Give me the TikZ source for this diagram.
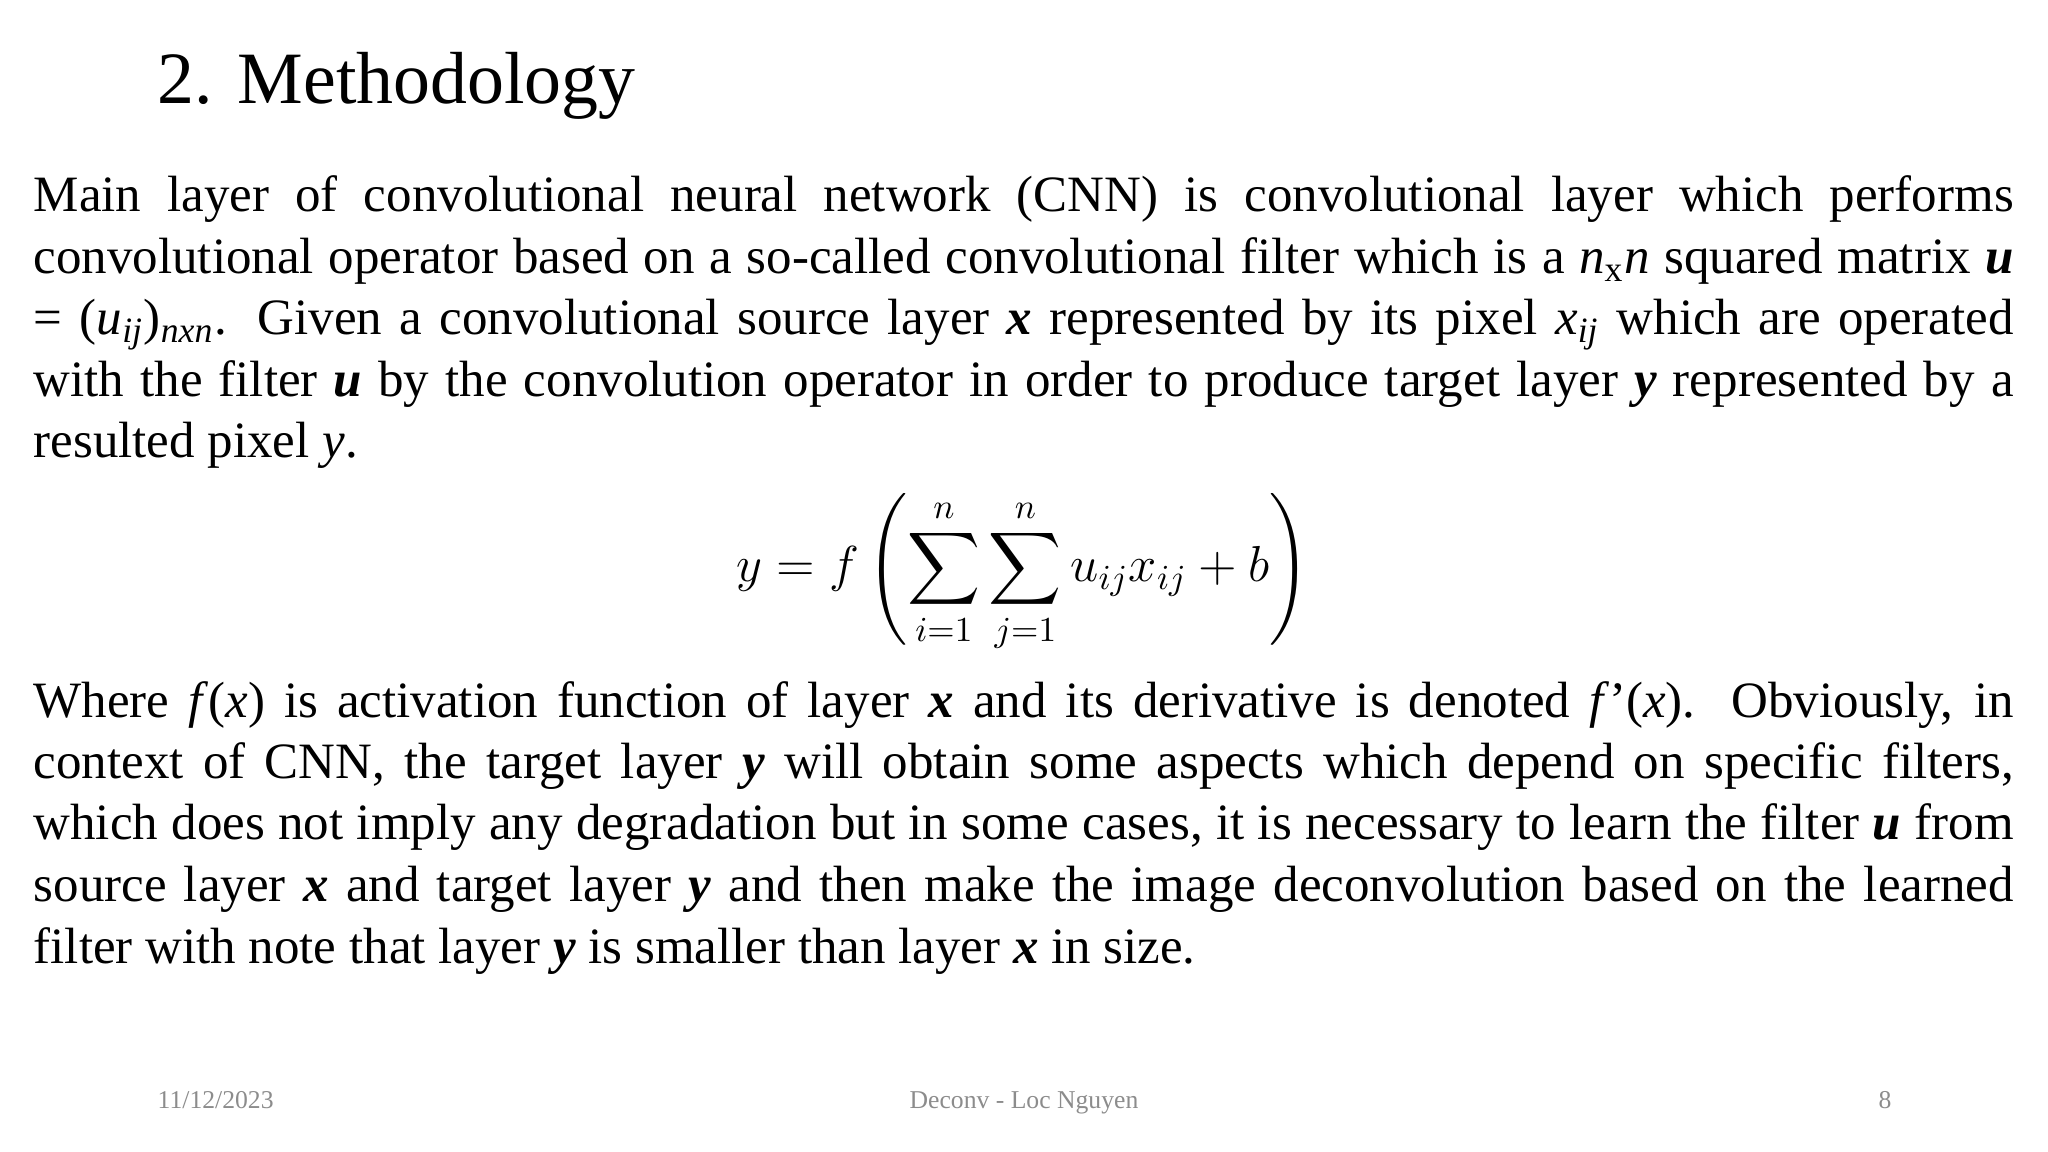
\documentclass[tikz,border=0pt]{standalone}
\usepackage{fontspec}
\usepackage{amsmath}
\setmainfont{Liberation Serif}
\newcommand{\bi}[1]{\textbf{\textit{#1}}}
\newcommand{\jl}[1]{\makebox[19.8cm][s]{#1}}
\begin{document}
\begin{tikzpicture}[x=1cm,y=1cm,
  body/.style={anchor=base west,inner sep=0pt,font=\fontsize{14.5}{17.4}\selectfont},
  foot/.style={anchor=base,inner sep=0pt,text=black!45,font=\fontsize{7.3}{8.5}\selectfont}]
\useasboundingbox (0,0) rectangle (20.48,-11.52);
\node[anchor=base west,inner sep=0pt,font=\fontsize{21}{25}\selectfont] (title) at (1.57,-1.04) {2. Methodology};
\node[body] (a1) at (0.33,-2.12) {\jl{Main layer of convolutional neural network (CNN) is convolutional layer which performs}};
\node[body] (a2) at (0.33,-2.735) {\jl{convolutional operator based on a so-called convolutional filter which is a \textit{n}\textsubscript{x}\textit{n} squared matrix \bi{u}}};
\node[body] (a3) at (0.33,-3.35) {\jl{= (\textit{u}\textsubscript{\textit{ij}})\textsubscript{\textit{nxn}}. Given a convolutional source layer \bi{x} represented by its pixel \textit{x}\textsubscript{\textit{ij}} which are operated}};
\node[body] (a4) at (0.33,-3.965) {\jl{with the filter \bi{u} by the convolution operator in order to produce target layer \bi{y} represented by a}};
\node[body] (a5) at (0.33,-4.58) {resulted pixel \textit{y}.};
\node[inner sep=0pt,font=\fontsize{14.4}{17}\selectfont] (eq) at (10.23,-5.73) {$\displaystyle y=f\left(\sum_{i=1}^{n}\sum_{j=1}^{n}u_{ij}x_{ij}+b\right)$};
\node[body] (b1) at (0.33,-7.17) {\jl{Where \textit{f}(\textit{x}) is activation function of layer \bi{x} and its derivative is denoted \textit{f}’(\textit{x}). Obviously, in}};
\node[body] (b2) at (0.33,-7.785) {\jl{context of CNN, the target layer \bi{y} will obtain some aspects which depend on specific filters,}};
\node[body] (b3) at (0.33,-8.40) {\jl{which does not imply any degradation but in some cases, it is necessary to learn the filter \bi{u} from}};
\node[body] (b4) at (0.33,-9.015) {\jl{source layer \bi{x} and target layer \bi{y} and then make the image deconvolution based on the learned}};
\node[body] (b5) at (0.33,-9.63) {filter with note that layer \bi{y} is smaller than layer \bi{x} in size.};
\node[foot,anchor=base west] (date) at (1.57,-11.08) {11/12/2023};
\node[foot] (auth) at (10.24,-11.08) {Deconv - Loc Nguyen};
\node[foot] (page) at (18.85,-11.08) {8};
\end{tikzpicture}
\end{document}
